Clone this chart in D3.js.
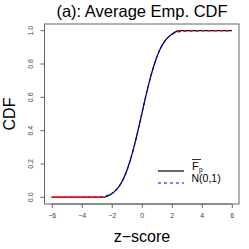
<!DOCTYPE html>
<html>
<head>
<meta charset="utf-8">
<script src="https://cdn.jsdelivr.net/npm/d3@7"></script>
<style>
  html, body { margin: 0; padding: 0; background: #fff; }
  svg { display: block; font-family: "Liberation Sans", Arial, sans-serif; }
</style>
</head>
<body>
<svg id="chart" width="249" height="249"></svg>
<script>
// z-score grid
var zGrid = [-6, -3, -2.75, -2.5, -2.25, -2, -1.75, -1.5, -1.25, -1, -0.75, -0.5, -0.25,
  0, 0.25, 0.5, 0.75, 1, 1.25, 1.5, 1.75, 2, 2.25, 2.5, 2.75, 3, 6];
// average empirical CDF (black)
var empCdf = [0, 0, 0, 0, 0.009, 0.022, 0.040, 0.067, 0.106, 0.159, 0.227, 0.309, 0.401,
  0.5, 0.599, 0.691, 0.773, 0.841, 0.894, 0.933, 0.960, 0.979, 0.993, 1, 1, 1, 1];
// N(0,1) CDF (blue dashed)
var normCdf = [0, 0.0013, 0.003, 0.0062, 0.0122, 0.0228, 0.0401, 0.0668, 0.1056, 0.1587, 0.2266, 0.3085, 0.4013,
  0.5, 0.5987, 0.6915, 0.7734, 0.8413, 0.8944, 0.9332, 0.9599, 0.9772, 0.9878, 0.9938, 0.997, 0.9987, 1];
// red tail segments
var lowTailX = [-6, -2.5], lowTailY = [0, 0];
var highTailX = [2.4, 6], highTailY = [1, 1];

var xTicks = [-6, -4, -2, 0, 2, 4, 6];
var yTicks = [0, 0.2, 0.4, 0.6, 0.8, 1.0];

var oSvg = d3.select("#chart");
var oMargin = { top: 24, right: 10, bottom: 45, left: 44.5 };
var iW = 249, iH = 249;

var oScaleX = d3.scaleLinear().domain([-6.48, 6.48]).range([oMargin.left, iW - oMargin.right]);
var oScaleY = d3.scaleLinear().domain([-0.04, 1.04]).range([iH - oMargin.bottom, oMargin.top]);

function pts(aX, aY) {
  return aX.map(function (x, i) { return [x, aY[i]]; });
}

var oLine = d3.line()
  .x(function (d) { return oScaleX(d[0]); })
  .y(function (d) { return oScaleY(d[1]); })
  .curve(d3.curveMonotoneX);

var oPlot = oSvg.append("g");

oPlot.append("path")
  .attr("d", oLine(pts(zGrid, empCdf)))
  .attr("fill", "none").attr("stroke", "#000").attr("stroke-width", 1.2);

oPlot.append("path")
  .attr("d", oLine(pts(zGrid, normCdf)))
  .attr("fill", "none").attr("stroke", "#0000ff").attr("stroke-width", 1.2)
  .attr("stroke-dasharray", "3,3");

oPlot.append("path")
  .attr("d", oLine(pts(lowTailX, lowTailY)))
  .attr("fill", "none").attr("stroke", "#ff0000").attr("stroke-width", 1.5);

oPlot.append("path")
  .attr("d", oLine(pts(highTailX, highTailY)))
  .attr("fill", "none").attr("stroke", "#ff0000").attr("stroke-width", 1.2)
  .attr("stroke-dasharray", "3,3");

// box
oSvg.append("rect")
  .attr("x", oMargin.left).attr("y", oMargin.top)
  .attr("width", iW - oMargin.right - oMargin.left)
  .attr("height", iH - oMargin.bottom - oMargin.top)
  .attr("fill", "none").attr("stroke", "#666").attr("stroke-width", 1);

// axes
var oXAxis = oSvg.append("g")
  .attr("transform", "translate(0," + (iH - oMargin.bottom) + ")")
  .call(d3.axisBottom(oScaleX).tickValues(xTicks).tickSize(4).tickPadding(5)
    .tickFormat(function (d) { return d < 0 ? "\u2212" + Math.abs(d) : d; }));
oXAxis.select(".domain").remove();
oXAxis.append("line")
  .attr("x1", oScaleX(xTicks[0])).attr("x2", oScaleX(xTicks[xTicks.length - 1]))
  .attr("stroke", "#666");
oXAxis.selectAll("line").attr("stroke", "#666");
oXAxis.selectAll("text").attr("font-size", 7).attr("fill", "#444");

var oYAxis = oSvg.append("g")
  .attr("transform", "translate(" + oMargin.left + ",0)")
  .call(d3.axisLeft(oScaleY).tickValues(yTicks).tickSize(4).tickFormat(d3.format(".1f")));
oYAxis.select(".domain").remove();
oYAxis.selectAll("line").attr("stroke", "#666");
oYAxis.selectAll("text")
  .attr("font-size", 7).attr("fill", "#444")
  .attr("text-anchor", "middle")
  .attr("x", 0).attr("dy", 0)
  .attr("transform", function (d) { return "translate(-12," + oScaleY(d) + ") rotate(-90)"; })
  .attr("y", 0);
oYAxis.selectAll(".tick").attr("transform", "translate(0,0)");
oYAxis.selectAll(".tick line")
  .attr("y1", function (d) { return oScaleY(d); })
  .attr("y2", function (d) { return oScaleY(d); });

// titles
oSvg.append("text")
  .attr("x", 142).attr("y", 17)
  .attr("text-anchor", "middle").attr("font-size", 16.5)
  .text("(a): Average Emp. CDF");

oSvg.append("text")
  .attr("x", 142).attr("y", 242)
  .attr("text-anchor", "middle").attr("font-size", 16)
  .text("z\u2212score");

oSvg.append("text")
  .attr("transform", "translate(15,114) rotate(-90)")
  .attr("text-anchor", "middle").attr("font-size", 16)
  .text("CDF");

// legend
var oLeg = oSvg.append("g");
oLeg.append("line")
  .attr("x1", 158).attr("x2", 184).attr("y1", 171).attr("y2", 171)
  .attr("stroke", "#000").attr("stroke-width", 1.2);
oLeg.append("text").attr("x", 192).attr("y", 169.5).attr("font-size", 11).text("F");
oLeg.append("text").attr("x", 199).attr("y", 172).attr("font-size", 6.5).text("p");
oLeg.append("line")
  .attr("x1", 192).attr("x2", 201).attr("y1", 159.5).attr("y2", 159.5)
  .attr("stroke", "#000").attr("stroke-width", 0.8);
oLeg.append("line")
  .attr("x1", 158).attr("x2", 184).attr("y1", 183).attr("y2", 183)
  .attr("stroke", "#0000ff").attr("stroke-width", 1.2).attr("stroke-dasharray", "3,3");
oLeg.append("text").attr("x", 191.5).attr("y", 182).attr("font-size", 10.5).text("N(0,1)");
</script>
</body>
</html>
